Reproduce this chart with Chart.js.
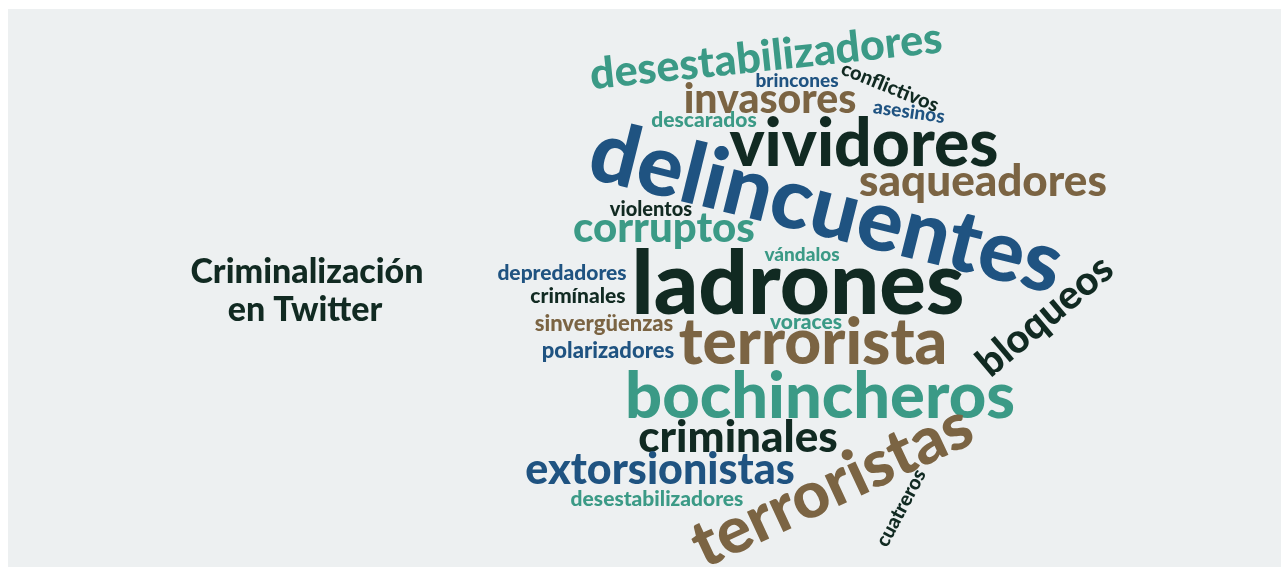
<!DOCTYPE html>
<html>
<head>
<meta charset="utf-8">
<script src="https://cdn.jsdelivr.net/npm/chart.js@4.4.1/dist/chart.umd.min.js"></script>
<style>
  html, body { margin: 0; padding: 0; background: #fff; }
  #wrap { position: relative; width: 1281px; height: 567px; }
  #panel { position: absolute; left: 8px; top: 9px; right: 0; bottom: 0; background: #edf0f1; }
  #cloud { position: absolute; left: 0; top: 0; }
</style>
</head>
<body>
<div id="wrap">
  <div id="panel"></div>
  <canvas id="cloud" width="1281" height="567"></canvas>
</div>
<script>
const words = [
  'desestabilizadores', 'brincones', 'conflictivos', 'invasores', 'asesinos',
  'descarados', 'delincuentes', 'vividores', 'saqueadores', 'violentos',
  'corruptos', 'bloqueos', 'vándalos', 'ladrones', 'depredadores',
  'crimínales', 'sinvergüenzas', 'voraces', 'terrorista', 'polarizadores',
  'bochincheros', 'criminales', 'extorsionistas', 'terroristas',
  'desestabilizadores', 'cuatreros'
];
// weight of each word (rendered as font px)
const weights = [43, 19, 20, 41, 19, 21, 85, 66, 44, 20, 42, 40, 19, 87, 21, 21, 22, 21, 64, 22, 65, 44, 43, 65, 21, 20];
// layout coordinates of each word (x right, y down)
const cloudX = [766, 797, 890, 770, 909, 704, 826, 864, 983, 651, 664, 1045, 802, 798, 562, 578, 604, 806, 813, 608, 820, 738, 660, 832, 657, 901];
const cloudY = [57, 81, 87, 100, 112, 120, 209, 145, 182, 210, 228, 316, 255, 286, 273, 296, 324, 322, 343, 351, 397, 438, 470, 486, 499, 508];
const angles = [-6, 0, 22, 0, 8, 0, 14, 0, 0, 0, 0, -40, 0, 0, 0, 0, 0, 0, 0, 0, 0, 0, 0, -25, 0, -62];
const tones = ['teal', 'blue', 'dark', 'brown', 'blue', 'teal', 'blue', 'dark', 'brown', 'dark',
  'teal', 'dark', 'teal', 'dark', 'blue', 'dark', 'brown', 'teal', 'brown', 'blue',
  'teal', 'dark', 'blue', 'brown', 'teal', 'dark'];

const titleLines = ['Criminalización', 'en Twitter'];
const titleX = [307, 305];
const titleY = [272, 310];

const PALETTE = {
  teal: '#3b9a86',
  blue: '#1f5381',
  brown: '#7b6443',
  dark: '#112a22',
};
const FONT = 'Lato, "Open Sans", sans-serif';

const wordPlugin = {
  id: 'wordLabels',
  afterDatasetsDraw(chart) {
    const { ctx } = chart;
    const cloud = chart.getDatasetMeta(0).data;
    const title = chart.getDatasetMeta(1).data;

    cloud.forEach((pt, i) => {
      ctx.save();
      ctx.translate(pt.x, pt.y);
      ctx.rotate((angles[i] * Math.PI) / 180);
      ctx.font = `900 ${weights[i]}px ${FONT}`;
      ctx.fillStyle = PALETTE[tones[i]];
      ctx.textAlign = 'center';
      ctx.textBaseline = 'middle';
      ctx.fillText(words[i], 0, 0);
      ctx.restore();
    });

    title.forEach((pt, i) => {
      ctx.save();
      ctx.font = `900 34px ${FONT}`;
      ctx.fillStyle = PALETTE.dark;
      ctx.textAlign = 'center';
      ctx.textBaseline = 'middle';
      ctx.fillText(titleLines[i], pt.x, pt.y);
      ctx.restore();
    });
  },
};

new Chart(document.getElementById('cloud'), {
  type: 'scatter',
  data: {
    datasets: [
      {
        label: 'Criminalización',
        data: words.map((w, i) => ({ x: cloudX[i], y: cloudY[i] })),
        pointRadius: 0,
      },
      {
        label: 'título',
        data: titleLines.map((t, i) => ({ x: titleX[i], y: titleY[i] })),
        pointRadius: 0,
      },
    ],
  },
  options: {
    responsive: false,
    animation: false,
    layout: { padding: 0 },
    plugins: { legend: { display: false }, tooltip: { enabled: false } },
    scales: {
      x: { type: 'linear', min: 0, max: 1281, display: false },
      y: { type: 'linear', min: 0, max: 567, reverse: true, display: false },
    },
  },
  plugins: [wordPlugin],
});
</script>
</body>
</html>
